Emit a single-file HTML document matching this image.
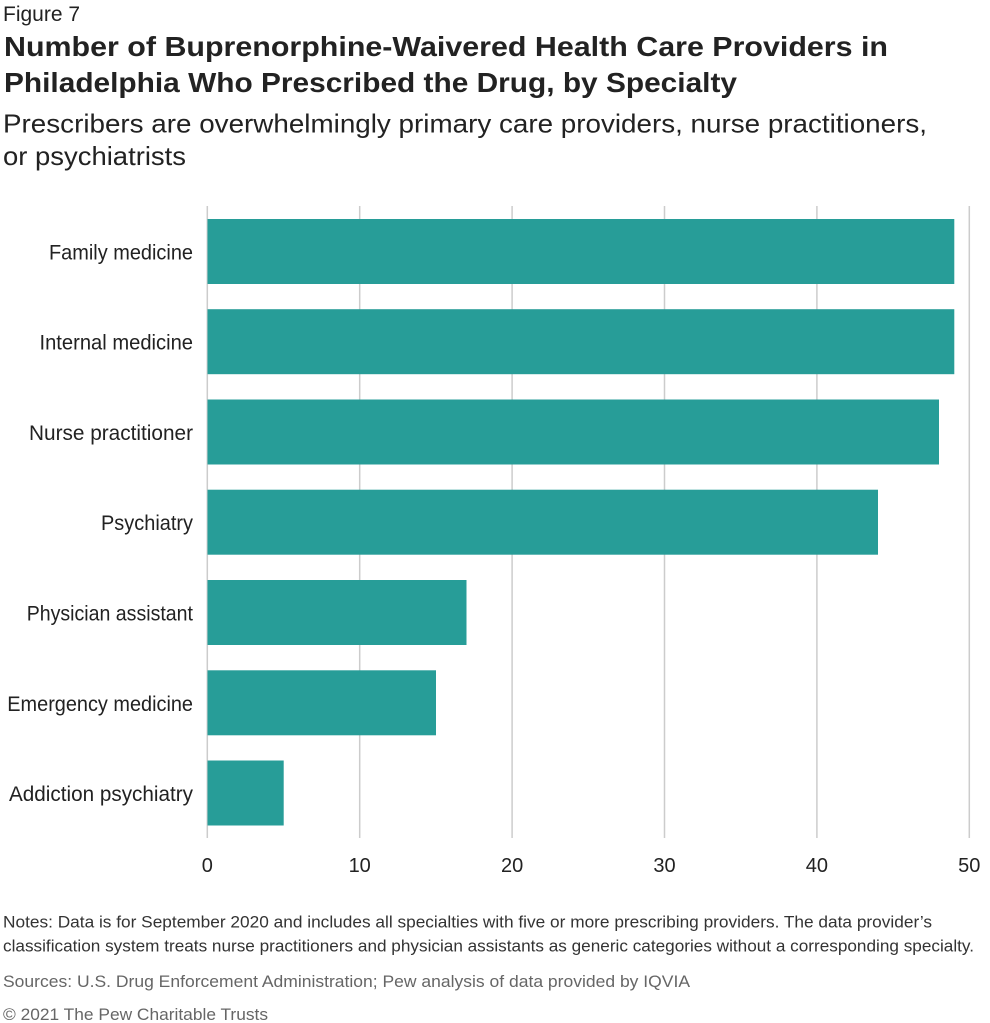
<!DOCTYPE html>
<html>
<head>
<meta charset="utf-8">
<style>
html,body{margin:0;padding:0;background:#fff;}
svg{display:block;}
text{font-family:"Liberation Sans",Arial,sans-serif;}
</style>
</head>
<body>
<svg width="990" height="1023" viewBox="0 0 990 1023" xmlns="http://www.w3.org/2000/svg">
  <rect x="0" y="0" width="990" height="1023" fill="#fff"/>
  <!-- header -->
  <text x="3" y="21" font-size="21" fill="#222" textLength="77" lengthAdjust="spacingAndGlyphs">Figure 7</text>
  <text x="4" y="56" font-size="28" font-weight="bold" fill="#222" textLength="884" lengthAdjust="spacingAndGlyphs">Number of Buprenorphine-Waivered Health Care Providers in</text>
  <text x="4" y="92" font-size="28" font-weight="bold" fill="#222" textLength="733" lengthAdjust="spacingAndGlyphs">Philadelphia Who Prescribed the Drug, by Specialty</text>
  <text x="3" y="132.5" font-size="26" fill="#222" textLength="924" lengthAdjust="spacingAndGlyphs">Prescribers are overwhelmingly primary care providers, nurse practitioners,</text>
  <text x="3" y="165" font-size="26" fill="#222" textLength="183" lengthAdjust="spacingAndGlyphs">or psychiatrists</text>

  <!-- gridlines -->
  <g stroke="#cccccc" stroke-width="1.5">
    <line x1="207.3" y1="206" x2="207.3" y2="838"/>
    <line x1="359.7" y1="206" x2="359.7" y2="838"/>
    <line x1="512.1" y1="206" x2="512.1" y2="838"/>
    <line x1="664.5" y1="206" x2="664.5" y2="838"/>
    <line x1="816.9" y1="206" x2="816.9" y2="838"/>
    <line x1="969.3" y1="206" x2="969.3" y2="838"/>
  </g>

  <!-- bars -->
  <g fill="#279d98">
    <rect x="207.5" y="219" width="746.8" height="65"/>
    <rect x="207.5" y="309.2" width="746.8" height="65"/>
    <rect x="207.5" y="399.5" width="731.5" height="65"/>
    <rect x="207.5" y="489.7" width="670.5" height="65"/>
    <rect x="207.5" y="580" width="259" height="65"/>
    <rect x="207.5" y="670.3" width="228.5" height="65"/>
    <rect x="207.5" y="760.5" width="76.2" height="65"/>
  </g>

  <!-- category labels -->
  <g font-size="21" fill="#222" text-anchor="end">
    <text x="193" y="259.5" textLength="144" lengthAdjust="spacingAndGlyphs">Family medicine</text>
    <text x="193" y="349.7" textLength="153.5" lengthAdjust="spacingAndGlyphs">Internal medicine</text>
    <text x="193" y="440" textLength="164" lengthAdjust="spacingAndGlyphs">Nurse practitioner</text>
    <text x="193" y="530.2" textLength="92" lengthAdjust="spacingAndGlyphs">Psychiatry</text>
    <text x="193" y="620.5" textLength="166.3" lengthAdjust="spacingAndGlyphs">Physician assistant</text>
    <text x="193" y="710.8" textLength="185.7" lengthAdjust="spacingAndGlyphs">Emergency medicine</text>
    <text x="193" y="801" textLength="184" lengthAdjust="spacingAndGlyphs">Addiction psychiatry</text>
  </g>

  <!-- tick labels -->
  <g font-size="20" fill="#222" text-anchor="middle">
    <text x="207.3" y="872">0</text>
    <text x="359.7" y="872">10</text>
    <text x="512.1" y="872">20</text>
    <text x="664.5" y="872">30</text>
    <text x="816.9" y="872">40</text>
    <text x="969.3" y="872">50</text>
  </g>

  <!-- notes -->
  <text x="3" y="927.5" font-size="17" fill="#333" textLength="929" lengthAdjust="spacingAndGlyphs">Notes: Data is for September 2020 and includes all specialties with five or more prescribing providers. The data provider’s</text>
  <text x="3" y="951.5" font-size="17" fill="#333" textLength="971" lengthAdjust="spacingAndGlyphs">classification system treats nurse practitioners and physician assistants as generic categories without a corresponding specialty.</text>
  <text x="3" y="987" font-size="17" fill="#666" textLength="687" lengthAdjust="spacingAndGlyphs">Sources: U.S. Drug Enforcement Administration; Pew analysis of data provided by IQVIA</text>
  <text x="3" y="1020" font-size="17" fill="#666" textLength="265" lengthAdjust="spacingAndGlyphs">© 2021 The Pew Charitable Trusts</text>
</svg>
</body>
</html>
